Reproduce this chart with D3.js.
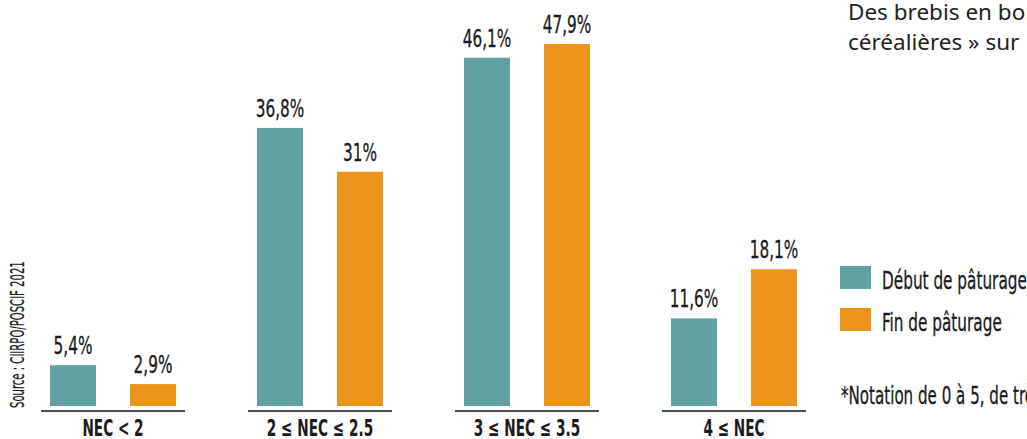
<!DOCTYPE html>
<html>
<head>
<meta charset="utf-8">
<script src="https://cdn.jsdelivr.net/npm/d3@7"></script>
<style>
  html, body { margin: 0; padding: 0; background: #fff; overflow: hidden; }
  svg { display: block; }
  .narrow { font-family: "DejaVu Sans Condensed", "DejaVu Sans", sans-serif; }
</style>
</head>
<body>
<svg id="chart" width="1027" height="439"></svg>
<script>
const categories = ["NEC < 2", "2 ≤ NEC ≤ 2.5", "3 ≤ NEC ≤ 3.5", "4 ≤ NEC"];
const seriesNames = ["Début de pâturage", "Fin de pâturage"];
const debutValues = [5.4, 36.8, 46.1, 11.6];
const finValues = [2.9, 31, 47.9, 18.1];
const valueLabelsDebut = ["5,4%", "36,8%", "46,1%", "11,6%"];
const valueLabelsFin = ["2,9%", "31%", "47,9%", "18,1%"];
const colors = ["#62A1A2", "#EB931A"];
const titleLines = ["Des brebis en bon état", "céréalières » sur"];
const sourceText = "Source : CIIRPO/POSCIF 2021";
const footnote = "*Notation de 0 à 5, de très maigre à très gras";

const svg = d3.select("#chart");
const textColor = "#1b1b1b";

const x0 = d3.scaleBand().domain(categories).range([41, 806]).paddingInner(63 / 207).paddingOuter(0);
const x1 = d3.scaleBand().domain(seriesNames).range([0, x0.bandwidth()]).paddingInner(0.425).paddingOuter(0.1125);
const y = d3.scaleLinear().domain([0, 50]).range([406, 28.2]);

const rows = categories.map((c, i) => ({
  cat: c,
  vals: [
    { s: seriesNames[0], v: debutValues[i], lab: valueLabelsDebut[i] },
    { s: seriesNames[1], v: finValues[i], lab: valueLabelsFin[i] }
  ]
}));

const g = svg.selectAll("g.grp").data(rows).join("g")
  .attr("class", "grp")
  .attr("transform", d => `translate(${x0(d.cat)},0)`);

g.selectAll("rect").data(d => d.vals).join("rect")
  .attr("x", d => x1(d.s))
  .attr("width", x1.bandwidth())
  .attr("y", d => y(d.v))
  .attr("height", d => y(0) - y(d.v))
  .attr("fill", (d, i) => colors[i]);

g.selectAll("text.val").data(d => d.vals).join("text")
  .attr("class", "val narrow")
  .attr("transform", d => `translate(${x1(d.s) + x1.bandwidth() / 2},${y(d.v) - 11}) scale(0.68,1)`)
  .attr("text-anchor", "middle")
  .attr("font-size", 25)
  .attr("fill", textColor)
  .attr("stroke", textColor).attr("stroke-width", 0.3)
  .text(d => d.lab);

// axis baseline per group
g.append("line")
  .attr("x1", 0).attr("x2", x0.bandwidth())
  .attr("y1", y(0) + 5).attr("y2", y(0) + 5)
  .attr("stroke", "#4d4d4d").attr("stroke-width", 2);

g.append("text")
  .attr("class", "narrow")
  .attr("transform", `translate(${x0.bandwidth() / 2},435.5) scale(0.66,1)`)
  .attr("text-anchor", "middle")
  .attr("font-size", 23)
  .attr("font-weight", "bold")
  .attr("fill", textColor)
  .text(d => d.cat);

// legend
const leg = svg.append("g").attr("transform", "translate(840,266)");
const li = leg.selectAll("g").data(seriesNames).join("g")
  .attr("transform", (d, i) => `translate(0,${i * 42})`);
li.append("rect").attr("width", 31).attr("height", 23).attr("fill", (d, i) => colors[i]);
li.append("text")
  .attr("class", "narrow")
  .attr("transform", "translate(42,23) scale(0.68,1)")
  .attr("font-size", 25)
  .attr("fill", textColor)
  .attr("stroke", textColor).attr("stroke-width", 0.3)
  .text(d => d);

svg.append("text")
  .attr("class", "narrow")
  .attr("transform", "translate(841,404) scale(0.70,1)")
  .attr("font-size", 24)
  .attr("fill", textColor)
  .attr("stroke", textColor).attr("stroke-width", 0.3)
  .text(footnote);

// title (top right)
svg.append("g").selectAll("text").data(titleLines).join("text")
  .attr("x", 848)
  .attr("y", (d, i) => 20 + i * 30)
  .attr("font-family", "'Noto Sans', sans-serif")
  .attr("font-size", 22.5)
  .attr("fill", "#222")
  .text(d => d);

// source vertical
svg.append("text")
  .attr("class", "narrow")
  .attr("transform", "translate(24,408) rotate(-90) scale(0.59,1)")
  .attr("font-size", 19)
  .attr("fill", textColor)
  .attr("stroke", textColor).attr("stroke-width", 0.2)
  .text(sourceText);
</script>
</body>
</html>
